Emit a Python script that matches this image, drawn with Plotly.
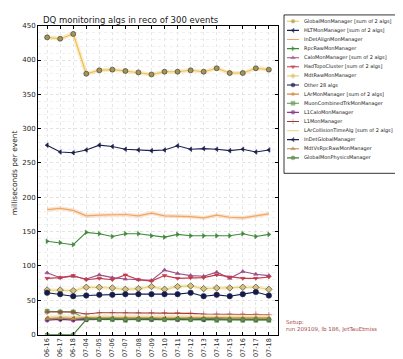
import plotly.graph_objects as go

dates = ["06-16", "06-17", "06-18", "07-04", "07-05", "07-06", "07-07", "07-08", "07-09",
         "07-10", "07-11", "07-12", "07-13", "07-14", "07-15", "07-16", "07-17", "07-18"]

global_mon = [433, 431, 438, 380, 385, 386, 384, 382, 379, 383, 383, 385, 383, 388, 381, 381, 388, 386]
hlt_mon = [276, 266, 265, 269, 276, 274, 270, 269, 268, 269, 275, 270, 271, 270, 268, 270, 266, 269]
indet_align = [182, 184, 181, 173, 174, 174, 175, 173, 177, 173, 173, 172, 170, 174, 171, 170, 173, 176]
rpc_raw = [136, 134, 131, 149, 147, 143, 147, 147, 144, 142, 146, 144, 144, 144, 144, 147, 143, 146]
calo_mon = [90, 83, 85, 81, 87, 83, 81, 80, 79, 94, 89, 86, 85, 91, 82, 92, 88, 86]
had_topo = [82, 83, 86, 80, 82, 80, 87, 80, 78, 86, 82, 83, 83, 87, 84, 82, 82, 84]
mdt_raw = [65, 65, 64, 69, 69, 68, 66, 67, 70, 66, 70, 71, 67, 68, 68, 69, 69, 66]
other_algs = [61, 59, 56, 57, 58, 58, 59, 59, 59, 59, 59, 61, 56, 58, 56, 59, 62, 57]
lar_mon = [24, 25, 24, 25, 25, 25, 25, 25, 25, 25, 25, 25, 24, 24, 24, 25, 24, 24]
muon_comb = [34, 33, 33, 22, 22, 22, 21, 22, 22, 22, 22, 22, 22, 21, 21, 21, 21, 21]
l1calo_mon = [21, 22, 21, 22, 23, 23, 22, 23, 22, 23, 22, 23, 22, 23, 22, 22, 22, 22]
l1_mon = [33, 33, 33, 30, 32, 32, 32, 32, 32, 32, 32, 31, 30, 30, 30, 30, 30, 29]
lar_coll = [26, 26, 26, 27, 27, 27, 27, 27, 27, 27, 27, 27, 27, 27, 27, 27, 27, 27]
indet_global = [23, 23, 23, 22, 23, 23, 22, 23, 23, 23, 23, 23, 22, 22, 22, 22, 22, 22]
mdt_vs_rpc = [23, 24, 23, 25, 24, 24, 25, 24, 24, 23, 24, 24, 24, 25, 24, 24, 25, 24]
global_phys = [0, 0, 0, 22, 23, 23, 22, 23, 23, 22, 23, 22, 23, 22, 22, 22, 22, 22]

names = ["GlobalMonManager [sum of 2 algs]", "HLTMonManager [sum of 2 algs]", "InDetAlignMonManager",
         "RpcRawMonManager", "CaloMonManager [sum of 2 algs]", "HadTopoCluster [sum of 2 algs]",
         "MdtRawMonManager", "Other 28 algs", "LArMonManager [sum of 2 algs]",
         "MuonCombinedTrkMonManager", "L1CaloMonManager", "L1MonManager",
         "LArCollisionTimeAlg [sum of 2 algs]", "InDetGlobalManager", "MdtVsRpcRawMonManager",
         "GlobalMonPhysicsManager"]
values = [global_mon, hlt_mon, indet_align, rpc_raw, calo_mon, had_topo, mdt_raw, other_algs,
          lar_mon, muon_comb, l1calo_mon, l1_mon, lar_coll, indet_global, mdt_vs_rpc, global_phys]

# style: (line color, marker symbol, marker size, marker fill, halo)
styles = [
    ("#efbf4f", "circle", 5, "#a2955a", True),
    ("#1b1f4e", "triangle-left", 4, "#1b1f4e", False),
    ("#f0a766", None, 0, "#f0a766", True),
    ("#3f8a3a", "triangle-right", 4, "#3f8a3a", False),
    ("#9b4f86", "triangle-up", 4, "#9b4f86", False),
    ("#c23a4c", "triangle-down", 4, "#c23a4c", False),
    ("#ead27a", "diamond", 5, "#d7c27c", True),
    ("#121a55", "circle", 5.5, "#121a55", False),
    ("#d48a48", "circle", 3, "#d48a48", True),
    ("#4f9a4a", "square", 4, "#7d9a55", False),
    ("#8f3d8f", "circle", 4, "#8f3d8f", False),
    ("#a2383a", "cross-thin", 4, "#a2383a", False),
    ("#f2dc98", None, 0, "#f2dc98", True),
    ("#1b1f4e", "triangle-left", 4, "#1b1f4e", False),
    ("#b78a55", "triangle-up", 4, "#b78a55", False),
    ("#3f7f3a", "circle", 4, "#6f8a4a", False),
]

W, H = 403, 359
fig = go.Figure()

for name, vals, (col, sym, sz, fill, halo) in zip(names, values, styles):
    if halo:
        fig.add_trace(go.Scatter(x=dates, y=vals, mode="lines", line=dict(color=col, width=4),
                                 opacity=0.3, showlegend=False, hoverinfo="skip",
                                 xaxis="x", yaxis="y"))
    if sym is None:
        fig.add_trace(go.Scatter(x=dates, y=vals, mode="lines", name=name,
                                 line=dict(color=col, width=1.2),
                                 showlegend=False, xaxis="x", yaxis="y"))
    else:
        fig.add_trace(go.Scatter(x=dates, y=vals, mode="lines+markers", name=name,
                                 line=dict(color=col, width=1.1),
                                 marker=dict(symbol=sym, size=sz, color=fill,
                                             line=dict(color="#333333" if sz >= 5 else col, width=0.6)),
                                 showlegend=False, xaxis="x", yaxis="y"))

# manual compact legend
for i, (name, (col, sym, sz, fill, halo)) in enumerate(zip(names, styles)):
    if sym is None:
        fig.add_trace(go.Scatter(x=[3, 15], y=[i, i], mode="lines",
                                 line=dict(color=col, width=1.2),
                                 showlegend=False, hoverinfo="skip", xaxis="x2", yaxis="y2"))
    else:
        fig.add_trace(go.Scatter(x=[3, 9, 15], y=[i, i, i], mode="lines+markers",
                                 line=dict(color=col, width=1.1),
                                 marker=dict(symbol=sym, size=[0, min(sz, 4), 0], color=fill,
                                             line=dict(color=col, width=0.5)),
                                 showlegend=False, hoverinfo="skip", xaxis="x2", yaxis="y2"))
    fig.add_annotation(x=18, y=i, xref="x2", yref="y2", text=name, showarrow=False,
                       xanchor="left", yanchor="middle",
                       font=dict(family="DejaVu Sans", size=5.0, color="#222222"))

x0, x1 = 30 / W, 270 / W
y0, y1 = (H - 330) / H, (H - 14) / H

fig.update_layout(
    width=W, height=H,
    margin=dict(l=0, r=0, t=0, b=0),
    paper_bgcolor="white", plot_bgcolor="white",
    font=dict(family="DejaVu Sans", color="#222222"),
    xaxis=dict(type="category", domain=[x0, x1], range=[-0.7, 17.7], tickangle=-90,
               tickfont=dict(size=6.5), ticks="inside", ticklen=3, tickcolor="black",
               showline=True, linecolor="black", linewidth=0.8, mirror="allticks",
               showgrid=True, gridcolor="#e6e6e6", gridwidth=0.6, griddash="dot", zeroline=False,
               anchor="y"),
    yaxis=dict(domain=[y0, y1], range=[0, 450], tickvals=list(range(0, 451, 50)),
               tickfont=dict(size=7), ticks="inside", ticklen=3, tickcolor="black",
               showline=True, linecolor="black", linewidth=0.8, mirror="allticks",
               showgrid=True, gridcolor="#e2e2e2", gridwidth=0.6, griddash="dot", zeroline=False,
               minor=dict(dtick=10, showgrid=True, gridcolor="#f0f0f0", gridwidth=0.5, griddash="dot"),
               anchor="x"),
    xaxis2=dict(domain=[276 / W, 401 / W], range=[0, 125], visible=False, anchor="y2"),
    yaxis2=dict(domain=[(H - 165) / H, (H - 3) / H], range=[16.7, -0.7], visible=False, anchor="x2"),
    showlegend=False,
)

fig.add_shape(type="rect", xref="paper", yref="paper", x0=276 / W, x1=401 / W,
              y0=(H - 165) / H, y1=(H - 3) / H, line=dict(color="black", width=0.8))

fig.add_annotation(x=33 / W, y=(H - 1) / H, xref="paper", yref="paper", xanchor="left", yanchor="top",
                   text="DQ monitoring algs in reco of 300 events", showarrow=False,
                   font=dict(family="DejaVu Sans", size=8.5, color="#222222"))
fig.add_annotation(x=6 / W, y=(H - 165) / H, xref="paper", yref="paper", xanchor="center", yanchor="middle",
                   text="milliseconds per event", textangle=-90, showarrow=False,
                   font=dict(family="DejaVu Sans", size=7.5, color="#222222"))
fig.add_annotation(x=276 / W, y=(H - 312) / H, xref="paper", yref="paper", xanchor="left", yanchor="top",
                   text="Setup:<br>run 209109, lb 186, JetTauEtmiss", showarrow=False, align="left",
                   font=dict(family="DejaVu Sans", size=5.5, color="#a8484a"))

fig.write_html("out.html")
